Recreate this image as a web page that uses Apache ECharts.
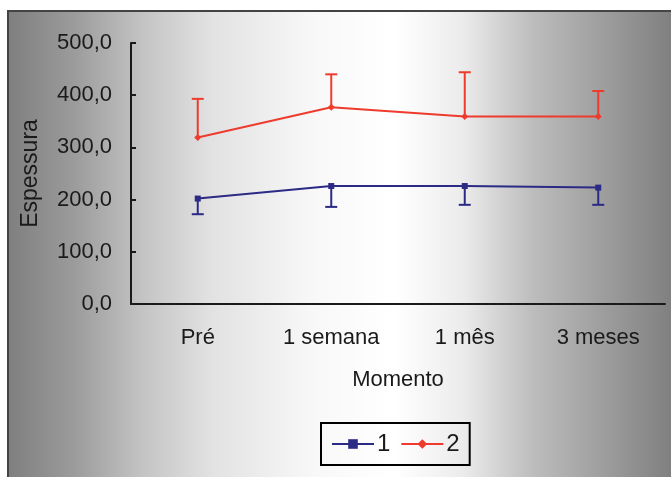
<!DOCTYPE html>
<html>
<head>
<meta charset="utf-8">
<script src="https://cdn.jsdelivr.net/npm/echarts@6/dist/echarts.min.js"></script>
<style>
  html, body { margin: 0; padding: 0; background: #ffffff; }
  #chart { width: 671px; height: 477px; }
</style>
</head>
<body>
<div id="chart"></div>
<script>
// Time points of the measurement
const momentos = ['Pré', '1 semana', '1 mês', '3 meses'];

// Group 1: mean thickness and lower end of the error bar
const grupo1Media = [202, 226, 226, 223];
const grupo1Inferior = [172, 186, 190, 190];

// Group 2: mean thickness and upper end of the error bar
const grupo2Media = [319, 377, 359, 359];
const grupo2Superior = [393, 440, 444, 408];

const yTicks = { min: 0, max: 500, interval: 100 };

const azul = '#2b2a85';
const vermelho = '#ee3b2d';

const chart = echarts.init(document.getElementById('chart'), null, { renderer: 'canvas' });

// One whisker per category: stem from the mean to the bound, plus a cap
function errorBar(color) {
  return function (params, api) {
    const i = api.value(0);
    const p0 = api.coord([i, api.value(1)]);
    const p1 = api.coord([i, api.value(2)]);
    const half = 6;
    const style = { stroke: color, lineWidth: 2 };
    return {
      type: 'group',
      children: [
        { type: 'line', shape: { x1: p0[0], y1: p0[1], x2: p1[0], y2: p1[1] }, style: style },
        { type: 'line', shape: { x1: p1[0] - half, y1: p1[1], x2: p1[0] + half, y2: p1[1] }, style: style }
      ]
    };
  };
}

const fmt = v => v.toFixed(1).replace('.', ',');
const fontFamily = '"Liberation Sans", Arial, sans-serif';
const ink = '#1a1a1a';

chart.setOption({
  backgroundColor: '#ffffff',
  animation: false,
  textStyle: { fontFamily: fontFamily },
  graphic: [{
    type: 'rect',
    z: -10,
    silent: true,
    shape: { x: 8, y: 11, width: 680, height: 480 },
    style: {
      fill: {
        type: 'linear', x: 0, y: 0, x2: 1, y2: 0,
        colorStops: [
          { offset: 0.00, color: '#7e7e7e' },
          { offset: 0.10, color: '#9c9c9c' },
          { offset: 0.20, color: '#c4c4c4' },
          { offset: 0.30, color: '#e2e2e2' },
          { offset: 0.45, color: '#f8f8f8' },
          { offset: 0.57, color: '#ffffff' },
          { offset: 0.67, color: '#ebebeb' },
          { offset: 0.77, color: '#bdbdbd' },
          { offset: 0.88, color: '#9c9c9c' },
          { offset: 1.00, color: '#787878' }
        ]
      },
      stroke: '#444444',
      lineWidth: 2
    }
  }],
  grid: { left: 131, right: 6, top: 43, bottom: 173 },
  legend: {
    left: 321,
    top: 423,
    padding: [9, 10],
    itemGap: 10,
    itemWidth: 42,
    itemHeight: 12,
    borderColor: '#000000',
    borderWidth: 2,
    backgroundColor: 'transparent',
    textStyle: { fontSize: 24, color: ink, fontFamily: fontFamily, padding: [0, 0, 0, -2] },
    data: ['1', '2']
  },
  xAxis: {
    type: 'category',
    data: momentos,
    boundaryGap: true,
    axisLine: { lineStyle: { color: ink, width: 2 } },
    axisTick: { show: false },
    axisLabel: { fontSize: 22, color: ink, margin: 23 },
    name: 'Momento',
    nameLocation: 'middle',
    nameGap: 65,
    nameTextStyle: { fontSize: 22, color: ink }
  },
  yAxis: {
    type: 'value',
    min: yTicks.min,
    max: yTicks.max,
    interval: yTicks.interval,
    splitLine: { show: false },
    axisLine: { show: true, lineStyle: { color: ink, width: 2 } },
    axisTick: { show: true, inside: true, length: 5, lineStyle: { color: ink, width: 2 } },
    axisLabel: { fontSize: 22, color: ink, margin: 19, formatter: fmt },
    name: 'Espessura',
    nameLocation: 'middle',
    nameGap: 89,
    nameTextStyle: { fontSize: 23, color: ink }
  },
  series: [
    {
      name: '1-err',
      type: 'custom',
      renderItem: errorBar(azul),
      data: momentos.map((m, i) => [i, grupo1Media[i], grupo1Inferior[i]]),
      encode: { x: 0, y: [1, 2] },
      z: 2
    },
    {
      name: '2-err',
      type: 'custom',
      renderItem: errorBar(vermelho),
      data: momentos.map((m, i) => [i, grupo2Media[i], grupo2Superior[i]]),
      encode: { x: 0, y: [1, 2] },
      z: 2
    },
    {
      name: '1',
      type: 'line',
      data: grupo1Media,
      color: azul,
      symbol: 'rect',
      symbolSize: 6,
      lineStyle: { width: 2, color: azul },
      itemStyle: { color: azul },
      z: 3
    },
    {
      name: '2',
      type: 'line',
      data: grupo2Media,
      color: vermelho,
      symbol: 'diamond',
      symbolSize: 7,
      lineStyle: { width: 2, color: vermelho },
      itemStyle: { color: vermelho },
      z: 3
    }
  ]
});
</script>
</body>
</html>
